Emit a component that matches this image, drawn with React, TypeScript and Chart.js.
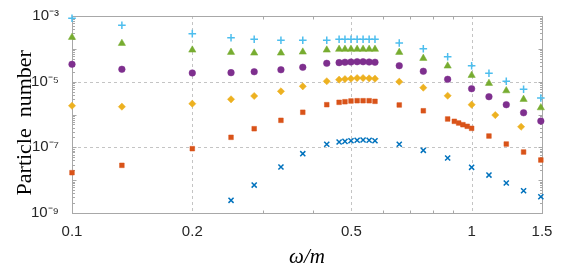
import React, { useEffect, useRef } from "react";
import { Chart, registerables } from "chart.js";

Chart.register(...registerables);

// ---- data ----
const xMain = [0.1, 0.1333, 0.2, 0.25, 0.2857, 0.3333, 0.378, 0.434, 0.466, 0.482, 0.499, 0.517, 0.535, 0.554, 0.573, 0.659, 0.757, 0.871, 1.0, 1.105, 1.221, 1.349, 1.49];
const plusY = [8.5e-4, 5.2e-4, 2.9e-4, 2.18e-4, 1.95e-4, 1.82e-4, 1.82e-4, 1.82e-4, 1.95e-4, 1.95e-4, 1.95e-4, 1.95e-4, 1.95e-4, 1.95e-4, 1.95e-4, 1.51e-4, 1.01e-4, 5.75e-5, 3.06e-5, 1.8e-5, 1.03e-5, 5.85e-6, 3.18e-6];
const triY = [2.24e-4, 1.47e-4, 9.2e-5, 7.83e-5, 7.46e-5, 7.46e-5, 8.0e-5, 9.2e-5, 9.7e-5, 9.7e-5, 9.7e-5, 9.7e-5, 9.7e-5, 9.7e-5, 9.7e-5, 7.83e-5, 5.15e-5, 3.0e-5, 1.56e-5, 8.9e-6, 5.3e-6, 2.9e-6, 1.61e-6];
const circY = [3.38e-5, 2.38e-5, 1.84e-5, 1.88e-5, 2.01e-5, 2.31e-5, 2.74e-5, 3.62e-5, 3.8e-5, 3.9e-5, 3.97e-5, 4.05e-5, 4.05e-5, 3.97e-5, 3.9e-5, 3.06e-5, 2.07e-5, 1.18e-5, 6.1e-6, 3.49e-6, 1.99e-6, 1.13e-6, 6.3e-7];

const xDiamond = [0.1, 0.1333, 0.2, 0.25, 0.2857, 0.3333, 0.378, 0.434, 0.466, 0.482, 0.499, 0.517, 0.535, 0.554, 0.573, 0.659, 0.757, 0.871, 1.0, 1.146, 1.33];
const diaY = [1.85e-6, 1.73e-6, 2.13e-6, 2.9e-6, 3.66e-6, 5.08e-6, 7.22e-6, 1.03e-5, 1.15e-5, 1.2e-5, 1.23e-5, 1.29e-5, 1.29e-5, 1.26e-5, 1.23e-5, 9.97e-6, 6.55e-6, 3.73e-6, 1.99e-6, 9.6e-7, 4.24e-7];

const xSquare = [0.1, 0.1333, 0.2, 0.25, 0.2857, 0.3333, 0.378, 0.434, 0.466, 0.482, 0.499, 0.517, 0.535, 0.554, 0.573, 0.659, 0.757, 0.871, 0.905, 0.928, 0.951, 0.975, 1.0, 1.105, 1.221, 1.349, 1.49];
const sqY = [1.69e-8, 2.83e-8, 9.1e-8, 2.02e-7, 3.69e-7, 6.65e-7, 1.17e-6, 1.99e-6, 2.35e-6, 2.45e-6, 2.58e-6, 2.63e-6, 2.63e-6, 2.63e-6, 2.52e-6, 1.95e-6, 1.3e-6, 7.3e-7, 6.2e-7, 5.51e-7, 4.89e-7, 4.37e-7, 3.79e-7, 2.21e-7, 1.26e-7, 7.2e-8, 4.11e-8];

const xCross = [0.25, 0.2857, 0.3333, 0.378, 0.434, 0.466, 0.482, 0.499, 0.517, 0.535, 0.554, 0.573, 0.659, 0.757, 0.871, 1.0, 1.105, 1.221, 1.349, 1.49];
const crossY = [2.43e-9, 7.1e-9, 2.52e-8, 6.4e-8, 1.24e-7, 1.45e-7, 1.52e-7, 1.59e-7, 1.64e-7, 1.67e-7, 1.64e-7, 1.59e-7, 1.24e-7, 8.1e-8, 4.73e-8, 2.46e-8, 1.43e-8, 8.2e-9, 4.77e-9, 3.13e-9];

const xTicks = [0.1, 0.2, 0.5, 1, 1.5];
const xTickLabels = ["0.1", "0.2", "0.5", "1", "1.5"];
const xMinorTicks = [0.3, 0.4, 0.6, 0.7, 0.8, 0.9];
const xGrid = [0.2, 0.5, 1];
const yTicks = [1e-9, 1e-7, 1e-5, 1e-3];
const yTickLabels = ["10⁻⁹", "10⁻⁷", "10⁻⁵", "10⁻³"];
const yGrid = [1e-7, 1e-5];
const yDecades = [-9, -8, -7, -6, -5, -4];

const pts = (xs: number[], ys: number[]) => xs.map((x, i) => ({ x, y: ys[i] }));

const axesPlugin = {
  id: "matlabAxes",
  beforeDatasetsDraw(chart: any) {
    const { ctx, chartArea: a, scales } = chart;
    const xs = scales.x;
    const ys = scales.y;
    ctx.save();
    // dashed grid
    ctx.strokeStyle = "#c4c4c4";
    ctx.lineWidth = 1;
    ctx.setLineDash([3, 3]);
    xGrid.forEach((v) => {
      const px = Math.round(xs.getPixelForValue(v)) + 0.5;
      ctx.beginPath();
      ctx.moveTo(px, a.top);
      ctx.lineTo(px, a.bottom);
      ctx.stroke();
    });
    yGrid.forEach((v) => {
      const py = Math.round(ys.getPixelForValue(v)) + 0.5;
      ctx.beginPath();
      ctx.moveTo(a.left, py);
      ctx.lineTo(a.right, py);
      ctx.stroke();
    });
    ctx.setLineDash([]);
    // box
    ctx.strokeStyle = "#a8a8a8";
    const L = Math.round(a.left) + 0.5, R = Math.round(a.right) + 0.5;
    const T = Math.round(a.top) + 0.5, B = Math.round(a.bottom) + 0.5;
    ctx.strokeRect(L, T, R - L, B - T);
    // x minor ticks
    ctx.beginPath();
    xMinorTicks.forEach((v) => {
      const px = Math.round(xs.getPixelForValue(v)) + 0.5;
      ctx.moveTo(px, B); ctx.lineTo(px, B - 3);
      ctx.moveTo(px, T); ctx.lineTo(px, T + 3);
    });
    // y minor ticks
    yDecades.forEach((k) => {
      for (let m = 1; m <= 9; m++) {
        const v = m * Math.pow(10, k);
        if (m === 1 && (k === -9)) continue;
        const py = Math.round(ys.getPixelForValue(v)) + 0.5;
        const len = m === 1 ? 4 : 2.5;
        ctx.moveTo(L, py); ctx.lineTo(L + len, py);
        ctx.moveTo(R, py); ctx.lineTo(R - len, py);
      }
    });
    ctx.stroke();
    ctx.restore();
  },
};

export default function App() {
  const ref = useRef<HTMLCanvasElement | null>(null);
  useEffect(() => {
    document.body.style.margin = "0";
    const canvas = ref.current;
    if (!canvas) return;
    const common = { showLine: false, clip: false as any, pointHoverRadius: 0 };
    const chart = new Chart(canvas, {
      type: "scatter",
      data: {
        datasets: [
          { ...common, label: "a", data: pts(xCross, crossY), pointStyle: "crossRot", pointRadius: 3.6, borderColor: "#0072BD", backgroundColor: "#0072BD", pointBorderWidth: 1.5 },
          { ...common, label: "b", data: pts(xSquare, sqY), pointStyle: "rect", pointRadius: 3.3, borderColor: "#D95319", backgroundColor: "#D95319", pointBorderWidth: 0.5 },
          { ...common, label: "c", data: pts(xDiamond, diaY), pointStyle: "rectRot", pointRadius: 3.6, borderColor: "#EDB120", backgroundColor: "#EDB120", pointBorderWidth: 0.5 },
          { ...common, label: "d", data: pts(xMain, circY), pointStyle: "circle", pointRadius: 3.3, borderColor: "#7E2F8E", backgroundColor: "#7E2F8E", pointBorderWidth: 0.5 },
          { ...common, label: "e", data: pts(xMain, triY), pointStyle: "triangle", pointRadius: 4.2, borderColor: "#77AC30", backgroundColor: "#77AC30", pointBorderWidth: 0.5 },
          { ...common, label: "f", data: pts(xMain, plusY), pointStyle: "cross", pointRadius: 3.8, borderColor: "#4DBEEE", backgroundColor: "#4DBEEE", pointBorderWidth: 1.5 },
        ],
      },
      options: {
        animation: false,
        responsive: false,
        devicePixelRatio: 1,
        layout: { padding: { left: 0, top: 16, right: 44, bottom: 0 } },
        plugins: { legend: { display: false }, tooltip: { enabled: false } },
        scales: {
          x: {
            type: "logarithmic",
            min: 0.1,
            max: 1.5,
            afterBuildTicks: (s: any) => { s.ticks = xTicks.map((v) => ({ value: v })); },
            afterFit: (s: any) => { s.height = 50; },
            grid: { display: false },
            border: { display: false },
            ticks: {
              autoSkip: false,
              maxRotation: 0,
              padding: 2,
              color: "#262626",
              font: { family: "'Liberation Sans', Arial, sans-serif", size: 15 },
              callback: (_v: any, i: number) => xTickLabels[i],
            },
            title: {
              display: true,
              text: "ω/m",
              color: "#000",
              padding: { top: 0, bottom: 0 },
              font: { family: "'Liberation Serif', serif", size: 21, style: "italic", lineHeight: 0.55 },
            },
          },
          y: {
            type: "logarithmic",
            min: 1e-9,
            max: 1e-3,
            afterBuildTicks: (s: any) => { s.ticks = yTicks.map((v) => ({ value: v })); },
            afterFit: (s: any) => { s.width = 72; },
            grid: { display: false },
            border: { display: false },
            ticks: {
              autoSkip: false,
              padding: 5,
              color: "#262626",
              font: { family: "'Liberation Sans', Arial, sans-serif", size: 15 },
              callback: (_v: any, i: number) => yTickLabels[i],
            },
            title: {
              display: true,
              text: "Particle  number   ",
              color: "#000",
              padding: { top: 12, bottom: 0 },
              font: { family: "'Liberation Serif', serif", size: 22 },
            },
          },
        },
      },
      plugins: [axesPlugin],
    });
    return () => chart.destroy();
  }, []);
  return (
    <div style={{ width: 586, height: 263 }}>
      <canvas ref={ref} width={586} height={263} style={{ display: "block", width: 586, height: 263 }} />
    </div>
  );
}
